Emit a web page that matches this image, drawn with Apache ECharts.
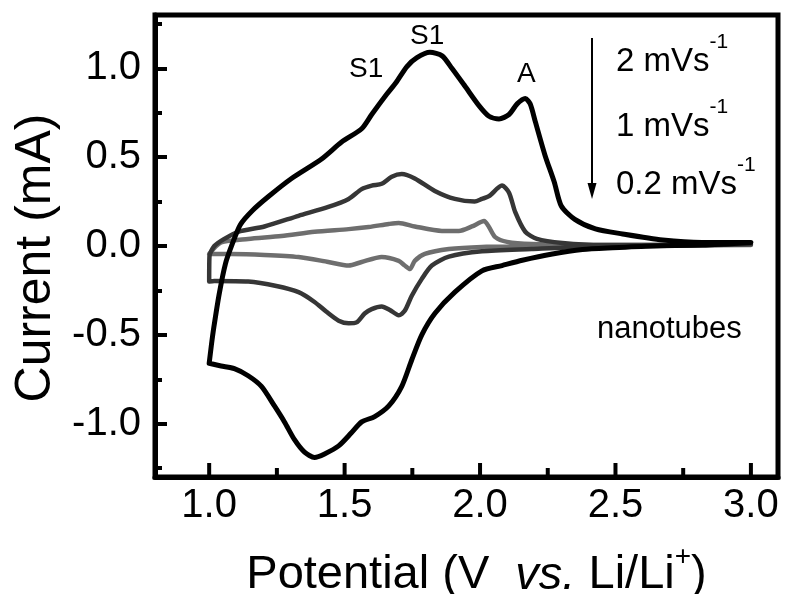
<!DOCTYPE html>
<html>
<head>
<meta charset="utf-8">
<script src="https://cdn.jsdelivr.net/npm/echarts@6/dist/echarts.min.js"></script>
<style>html,body{margin:0;padding:0;background:#fff;}#c{width:787px;height:594px;}</style>
</head>
<body>
<div id="c"></div>
<script>
// ---- axis ranges and tick values ----
const xRange = [0.8, 3.1];
const yRange = [-1.3, 1.3];
const xMajorTicks = [1.0, 1.5, 2.0, 2.5, 3.0];
const xMinorTicks = [1.25, 1.75, 2.25, 2.75];
const yMajorTicks = [-1.0, -0.5, 0.0, 0.5, 1.0];
const yMinorTicks = [-1.25, -0.75, -0.25, 0.25, 0.75, 1.25];

// ---- 2 mV/s (black) ----
const potential2 = [1.000, 1.008, 1.017, 1.037, 1.060, 1.085, 1.115, 1.160, 1.220, 1.304, 1.415, 1.489, 1.563, 1.600, 1.656, 1.690, 1.730, 1.767, 1.815, 1.860, 1.896, 1.944, 1.996, 2.033, 2.070, 2.107, 2.137, 2.167, 2.185, 2.204, 2.240, 2.274, 2.300, 2.350, 2.426, 2.526, 2.674, 2.820, 3.000,
  2.820, 2.637, 2.489, 2.378, 2.267, 2.156, 2.081, 2.007, 1.907, 1.833, 1.785, 1.748, 1.711, 1.663, 1.611, 1.563, 1.526, 1.478, 1.426, 1.389, 1.352, 1.315, 1.278, 1.241, 1.193, 1.144, 1.093, 1.044, 1.000];
const current2 = [-0.66, -0.56, -0.46, -0.27, -0.10, 0.01, 0.12, 0.20, 0.28, 0.38, 0.49, 0.585, 0.66, 0.74, 0.855, 0.92, 1.01, 1.06, 1.09, 1.07, 1.00, 0.90, 0.79, 0.73, 0.715, 0.74, 0.80, 0.83, 0.80, 0.70, 0.51, 0.36, 0.225, 0.15, 0.096, 0.068, 0.034, 0.02, 0.02,
  0.005, 0.0, -0.01, -0.02, -0.045, -0.08, -0.11, -0.14, -0.26, -0.38, -0.50, -0.64, -0.79, -0.90, -0.96, -0.99, -1.05, -1.125, -1.17, -1.19, -1.16, -1.09, -0.99, -0.90, -0.79, -0.73, -0.69, -0.675, -0.66];

// ---- 1 mV/s (dark grey) ----
const potential1 = [1.000, 1.001, 1.019, 1.056, 1.107, 1.204, 1.330, 1.440, 1.515, 1.563, 1.600, 1.637, 1.674, 1.711, 1.759, 1.833, 1.907, 1.980, 2.007, 2.033, 2.081, 2.107, 2.130, 2.167, 2.210, 2.304, 2.452, 2.637, 3.000,
  2.637, 2.378, 2.190, 2.007, 1.885, 1.822, 1.785, 1.748, 1.722, 1.700, 1.667, 1.637, 1.600, 1.574, 1.544, 1.515, 1.478, 1.433, 1.389, 1.330, 1.248, 1.144, 1.019, 1.000];
const current1 = [-0.20, -0.06, 0.0, 0.04, 0.08, 0.11, 0.17, 0.22, 0.265, 0.32, 0.34, 0.35, 0.39, 0.405, 0.38, 0.31, 0.265, 0.25, 0.265, 0.28, 0.34, 0.30, 0.19, 0.08, 0.04, 0.017, 0.005, 0.005, 0.01,
  0.0, -0.005, -0.017, -0.03, -0.06, -0.11, -0.185, -0.28, -0.365, -0.39, -0.36, -0.34, -0.355, -0.38, -0.43, -0.435, -0.42, -0.37, -0.315, -0.26, -0.225, -0.20, -0.197, -0.20];

// ---- 0.2 mV/s (light grey) ----
const potential02 = [1.000, 1.044, 1.144, 1.267, 1.389, 1.515, 1.589, 1.663, 1.700, 1.759, 1.859, 1.922, 1.970, 2.015, 2.033, 2.056, 2.100, 2.190, 2.452, 3.000,
  2.452, 2.156, 2.007, 1.885, 1.796, 1.759, 1.741, 1.722, 1.700, 1.637, 1.563, 1.515, 1.440, 1.330, 1.204, 1.081, 1.000];
const current02 = [-0.045, 0.02, 0.04, 0.056, 0.08, 0.095, 0.107, 0.124, 0.13, 0.11, 0.085, 0.085, 0.11, 0.14, 0.107, 0.05, 0.023, 0.011, 0.005, 0.005,
  0.0, -0.003, -0.005, -0.017, -0.045, -0.084, -0.13, -0.11, -0.084, -0.062, -0.09, -0.11, -0.09, -0.062, -0.05, -0.045, -0.045];

function pairs(xs, ys) { return xs.map((x, i) => [x, ys[i]]); }

const FONT = "'Liberation Sans', Arial, sans-serif";
const chart = echarts.init(document.getElementById('c'), null, { renderer: 'canvas' });

const supRich = {
  m: { fontSize: 33, fontFamily: FONT, lineHeight: 46, verticalAlign: 'bottom' },
  s: { fontSize: 21, fontFamily: FONT, lineHeight: 21, verticalAlign: 'top' }
};

const annotations = [
  { type: 'text', left: 349, top: 55, style: { text: 'S1', font: '28px ' + FONT, fill: '#000' } },
  { type: 'text', left: 410, top: 22, style: { text: 'S1', font: '28px ' + FONT, fill: '#000' } },
  { type: 'text', left: 517, top: 60, style: { text: 'A', font: '28px ' + FONT, fill: '#000' } },
  { type: 'line', shape: { x1: 592, y1: 38, x2: 592, y2: 186 }, style: { stroke: '#000', lineWidth: 2 } },
  { type: 'polygon', shape: { points: [[587.5, 183], [596.5, 183], [592, 199]] }, style: { fill: '#000' } },
  { type: 'text', left: 616, top: 32, style: { text: '{m|2 mVs}{s|-1}', font: '33px ' + FONT, fill: '#000', rich: supRich } },
  { type: 'text', left: 616, top: 97, style: { text: '{m|1 mVs}{s|-1}', font: '33px ' + FONT, fill: '#000', rich: supRich } },
  { type: 'text', left: 616, top: 155, style: { text: '{m|0.2 mVs}{s|-1}', font: '33px ' + FONT, fill: '#000', rich: supRich } },
  { type: 'text', left: 597, top: 314, style: { text: 'nanotubes', font: '31px ' + FONT, fill: '#000' } }
];

chart.setOption({
  animation: false,
  backgroundColor: '#fff',
  grid: { left: 155, right: 9, top: 15, bottom: 117, outerBoundsMode: 'none',
    show: true, borderColor: '#000', borderWidth: 5 },
  xAxis: [
    {
      type: 'value', min: xRange[0], max: xRange[1], position: 'bottom',
      axisLine: { show: true, onZero: false, lineStyle: { color: '#000', width: 5 } },
      axisTick: { show: false },
      axisLabel: { show: true, customValues: xMajorTicks, margin: 9, color: '#000', fontSize: 40, fontFamily: FONT, formatter: v => v.toFixed(1) },
      splitLine: { show: false },
      name: '{n|Potential (V  }{i|vs.}{n| Li/Li}{s|+}{n|)}',
      nameLocation: 'middle', nameGap: 66,
      nameTextStyle: {
        color: '#000', fontFamily: FONT, fontSize: 47, padding: [0, 0, 0, 20],
        rich: {
          n: { fontSize: 47, fontFamily: FONT, color: '#000', lineHeight: 56, verticalAlign: 'bottom' },
          i: { fontSize: 47, fontFamily: FONT, fontStyle: 'italic', color: '#000', lineHeight: 56, verticalAlign: 'bottom' },
          s: { fontSize: 28, fontFamily: FONT, color: '#000', lineHeight: 28, verticalAlign: 'top' }
        }
      }
    }
  ],
  yAxis: [
    {
      type: 'value', min: yRange[0], max: yRange[1], position: 'left',
      axisLine: { show: true, onZero: false, lineStyle: { color: '#000', width: 5 } },
      axisTick: { show: true, inside: true, length: 12, lineStyle: { color: '#000', width: 4 }, customValues: yMajorTicks },
      axisLabel: { show: true, customValues: yMajorTicks, margin: 14, color: '#000', fontSize: 40, fontFamily: FONT, formatter: v => v.toFixed(1) },
      splitLine: { show: false },
      name: 'Current (mA)', nameLocation: 'middle', nameGap: 94, nameRotate: 90,
      nameTextStyle: { color: '#000', fontFamily: FONT, fontSize: 50, padding: [0, 24, 0, 0] }
    },
    {
      type: 'value', min: yRange[0], max: yRange[1], position: 'left',
      axisLine: { show: false, onZero: false },
      axisTick: { show: true, inside: true, length: 7, lineStyle: { color: '#000', width: 4 }, customValues: yMinorTicks },
      axisLabel: { show: false },
      splitLine: { show: false }
    }
  ],
  series: [
    { name: '0.2 mV/s', type: 'line', xAxisIndex: 0, yAxisIndex: 0, data: pairs(potential02, current02), showSymbol: false, smooth: 0.25, z: 2,
      lineStyle: { color: '#6e6e6e', width: 4.5, cap: 'round', join: 'round' } },
    { name: '1 mV/s', type: 'line', xAxisIndex: 0, yAxisIndex: 0, data: pairs(potential1, current1), showSymbol: false, smooth: 0.25, z: 3,
      lineStyle: { color: '#363636', width: 4.5, cap: 'round', join: 'round' } },
    { name: '2 mV/s', type: 'line', xAxisIndex: 0, yAxisIndex: 0, data: pairs(potential2, current2), showSymbol: false, smooth: 0.25, z: 4,
      lineStyle: { color: '#000000', width: 5, cap: 'round', join: 'round' } }
  ]
});

// Bottom-axis tick marks, positioned through the library's own axis scales.
const axisY = chart.convertToPixel({ yAxisIndex: 0 }, yRange[0]);
function tickMarks(values, len) {
  return values.map(v => {
    const px = chart.convertToPixel({ xAxisIndex: 0 }, v);
    return { type: 'line', z: 100, silent: true,
      shape: { x1: px, y1: axisY, x2: px, y2: axisY - len },
      style: { stroke: '#000', lineWidth: 4 } };
  });
}

chart.setOption({
  graphic: annotations.concat(tickMarks(xMajorTicks, 14), tickMarks(xMinorTicks, 9))
});
</script>
</body>
</html>
